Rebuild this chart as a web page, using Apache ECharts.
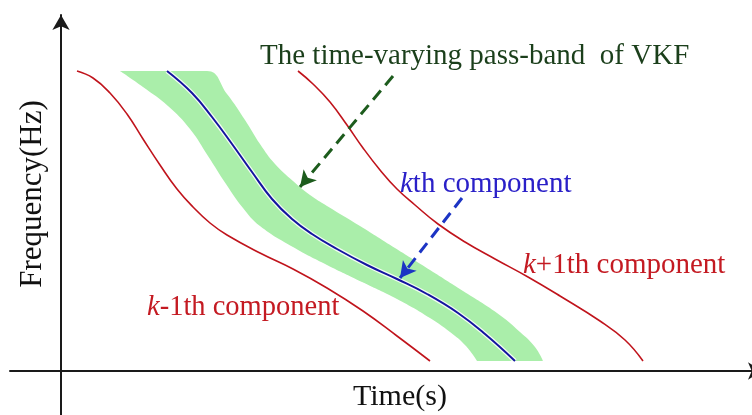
<!DOCTYPE html>
<html>
<head>
<meta charset="utf-8">
<script src="https://cdn.jsdelivr.net/npm/echarts@6/dist/echarts.min.js"></script>
<style>
html,body{margin:0;padding:0;background:#fff;}
#chart{width:752px;height:415px;}
</style>
</head>
<body>
<div id="chart"></div>
<script>
// Values read from the schematic: [time, frequency] (arbitrary units, origin at axes crossing)
const kMinus1Curve = [[16,300],[32,293],[49,278],[66,257],[82,232],[99,206],[116,182],[132,164],[149,148],[166,136],[199,118],[232,102],[266,83],[302,60],[336,35],[369,10]];
const kCurve = [[106,300],[131,278],[151,254],[171,227],[191,199],[211,172],[231,152],[251,137],[276,122],[306,106],[336,92],[366,77],[397,58],[424,37],[454,10]];
const kPlus1Curve = [[237,300],[252,287],[269,269],[286,246],[302,223],[319,201],[336,182],[354,166],[377,147],[404,129],[434,112],[467,94],[499,75],[539,50],[564,31],[582,10]];
// pass-band edges (upper-right and lower-left)
const bandUpperEdge = [[59,300],[146,300],[166,277],[184,251],[199,227],[214,207],[232,190],[249,176],[266,165],[299,145],[334,123],[369,101],[402,80],[436,58],[459,39],[474,24],[482,10]];
const bandLowerEdge = [[59,300],[82,284],[107,265],[129,242],[147,215],[165,187],[182,163],[199,145],[232,124],[266,106],[301,89],[336,72],[369,53],[389,39],[405,25],[416,10]];
// annotation arrows [from, to]
const bandArrow = [[332,295],[239,184]];
const kArrow = [[401,173],[339,93]];
// texts
const xAxisTitle = 'Time(s)';
const yAxisTitle = 'Frequency(Hz)';
const bandLabel = 'The time-varying pass-band  of VKF';

const serif = '"Liberation Serif","DejaVu Serif",serif';
const red = '#c0141c';
const chart = echarts.init(document.getElementById('chart'), null, {renderer:'canvas'});

const hiddenAxis = {type:'value', axisLabel:{show:false}, axisTick:{show:false}, splitLine:{show:false}};

chart.setOption({
  animation:false,
  backgroundColor:'#fff',
  grid:[
    {left:10, width:753, top:15, height:400, outerBoundsMode:'none', containLabel:false},
    {left:10, width:753, top:71, height:290, outerBoundsMode:'none', containLabel:false}
  ],
  xAxis:[
    Object.assign({}, hiddenAxis, {gridIndex:0, min:-51, max:702,
      axisLine:{show:true, onZero:true, symbol:['none','arrow'], symbolSize:[13,15], lineStyle:{color:'#1a1a1a', width:2}}}),
    Object.assign({}, hiddenAxis, {gridIndex:1, min:-51, max:702, axisLine:{show:false}})
  ],
  yAxis:[
    Object.assign({}, hiddenAxis, {gridIndex:0, min:-44, max:356,
      axisLine:{show:true, onZero:true, symbol:['none','arrow'], symbolSize:[13,15], lineStyle:{color:'#1a1a1a', width:2}}}),
    Object.assign({}, hiddenAxis, {gridIndex:1, min:10, max:300, axisLine:{show:false}})
  ],
  series:[
    {type:'line', xAxisIndex:1, yAxisIndex:1, data:bandUpperEdge, smooth:0.45, symbol:'none', clip:true,
      lineStyle:{width:0, color:'#aaeeaa'}, areaStyle:{color:'#aaeeaa', opacity:1, origin:'start'}, silent:true},
    {type:'line', xAxisIndex:1, yAxisIndex:1, data:bandLowerEdge, smooth:0.45, symbol:'none', clip:true,
      lineStyle:{width:0, color:'#ffffff'},
      areaStyle:{color:'#ffffff', opacity:1, origin:'start', shadowColor:'#ffffff', shadowOffsetX:-1.5, shadowBlur:0}, silent:true},
    {type:'line', data:kCurve, smooth:0.45, symbol:'none', lineStyle:{color:'rgba(255,255,255,0.85)', width:4.5}, silent:true},
    {type:'line', data:kCurve, smooth:0.45, symbol:'none', lineStyle:{color:'#1414a0', width:2}, silent:true},
    {type:'line', data:kMinus1Curve, smooth:0.45, symbol:'none', lineStyle:{color:red, width:1.6}, silent:true},
    {type:'line', data:kPlus1Curve, smooth:0.45, symbol:'none', lineStyle:{color:red, width:1.6}, silent:true},
    {type:'line', data:[], silent:true,
      markLine:{silent:true, animation:false, symbol:['none','arrow'], symbolSize:[13,16], label:{show:false},
        lineStyle:{color:'#1d5c1d', width:3, type:[12,7]},
        data:[[{coord:bandArrow[0]},{coord:bandArrow[1]}]]}},
    {type:'line', data:[], silent:true,
      markLine:{silent:true, animation:false, symbol:['none','arrow'], symbolSize:[13,16], label:{show:false},
        lineStyle:{color:'#1c34c4', width:3, type:[12,7]},
        data:[[{coord:kArrow[0]},{coord:kArrow[1]}]]}}
  ],
  graphic:[
    {type:'text', x:33, y:194, rotation:Math.PI/2, z:100,
      style:{text:yAxisTitle, fontSize:31, fontFamily:serif, fill:'#111', textAlign:'center', textVerticalAlign:'middle'}},
    {type:'text', x:353, y:397, z:100,
      style:{text:xAxisTitle, fontSize:30, fontFamily:serif, fill:'#111', textAlign:'left', textVerticalAlign:'middle'}},
    {type:'text', x:260, y:56, z:100,
      style:{text:bandLabel, fontSize:29, fontFamily:serif, fill:'#1b3f1b', textAlign:'left', textVerticalAlign:'middle'}},
    {type:'text', x:400, y:184, z:100,
      style:{text:'{i|k}{n|th component}', textAlign:'left', textVerticalAlign:'middle', fontSize:29, fontFamily:serif, fill:'#2a20c8',
        rich:{i:{fontStyle:'italic', fontSize:29, fontFamily:serif, fill:'#2a20c8'}, n:{fontSize:29, fontFamily:serif, fill:'#2a20c8'}}}},
    {type:'text', x:523, y:265, z:100,
      style:{text:'{i|k}{n|+1th component}', textAlign:'left', textVerticalAlign:'middle', fontSize:29, fontFamily:serif, fill:'#c41a22',
        rich:{i:{fontStyle:'italic', fontSize:29, fontFamily:serif, fill:'#c41a22'}, n:{fontSize:29, fontFamily:serif, fill:'#c41a22'}}}},
    {type:'text', x:147, y:308, z:100,
      style:{text:'{i|k}{n|-1th component}', textAlign:'left', textVerticalAlign:'middle', fontSize:28.5, fontFamily:serif, fill:'#c41a22',
        rich:{i:{fontStyle:'italic', fontSize:28.5, fontFamily:serif, fill:'#c41a22'}, n:{fontSize:28.5, fontFamily:serif, fill:'#c41a22'}}}}
  ]
});
</script>
</body>
</html>
